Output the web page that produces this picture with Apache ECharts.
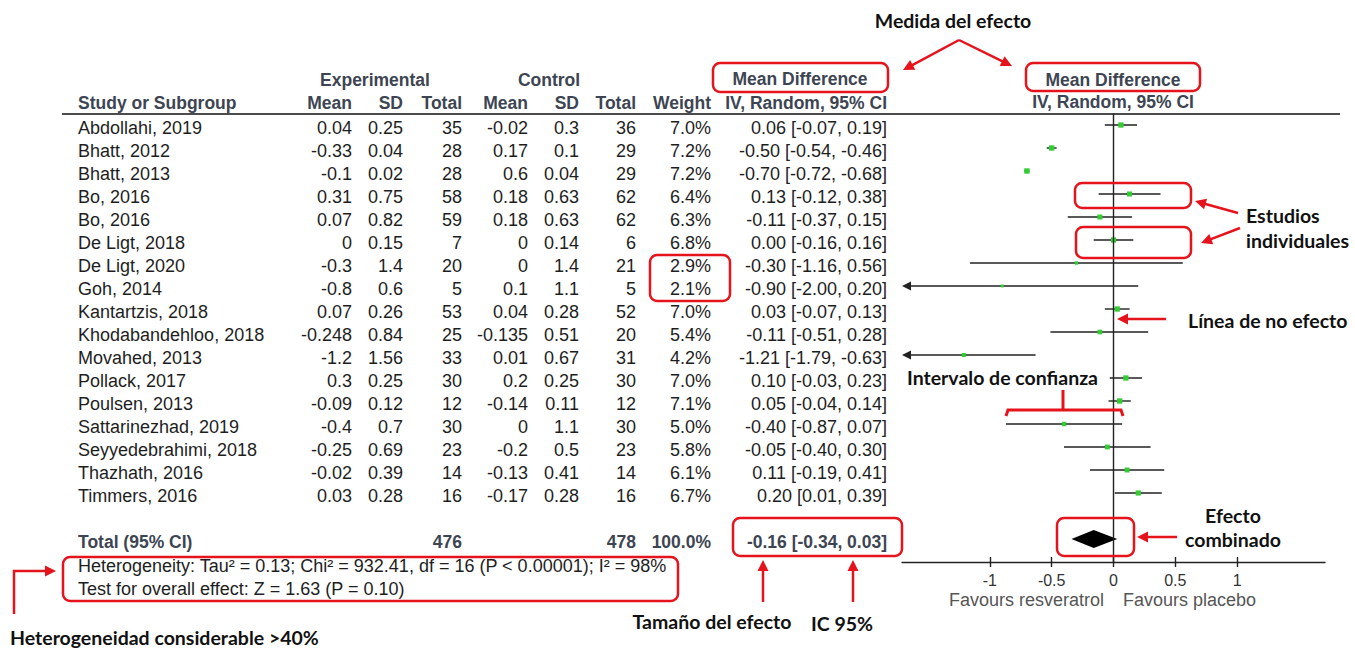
<!DOCTYPE html>
<html>
<head>
<meta charset="utf-8">
<title>Forest plot – resveratrol vs placebo</title>
<script src="https://cdn.jsdelivr.net/npm/echarts@6/dist/echarts.min.js"></script>
<style>
  html, body { margin: 0; padding: 0; background: #ffffff; }
  #chart { width: 1355px; height: 648px; }
</style>
</head>
<body>
<div id="chart"></div>
<script>
// ---- Study data -----------------------------------------------------------
const studies = [
  'Abdollahi, 2019', 'Bhatt, 2012', 'Bhatt, 2013', 'Bo, 2016', 'Bo, 2016',
  'De Ligt, 2018', 'De Ligt, 2020', 'Goh, 2014', 'Kantartzis, 2018',
  'Khodabandehloo, 2018', 'Movahed, 2013', 'Pollack, 2017', 'Poulsen, 2013',
  'Sattarinezhad, 2019', 'Seyyedebrahimi, 2018', 'Thazhath, 2016', 'Timmers, 2016'
];
const expMean  = [0.04, -0.33, -0.1, 0.31, 0.07, 0, -0.3, -0.8, 0.07, -0.248, -1.2, 0.3, -0.09, -0.4, -0.25, -0.02, 0.03];
const expSD    = [0.25, 0.04, 0.02, 0.75, 0.82, 0.15, 1.4, 0.6, 0.26, 0.84, 1.56, 0.25, 0.12, 0.7, 0.69, 0.39, 0.28];
const expTotal = [35, 28, 28, 58, 59, 7, 20, 5, 53, 25, 33, 30, 12, 30, 23, 14, 16];
const ctlMean  = [-0.02, 0.17, 0.6, 0.18, 0.18, 0, 0, 0.1, 0.04, -0.135, 0.01, 0.2, -0.14, 0, -0.2, -0.13, -0.17];
const ctlSD    = [0.3, 0.1, 0.04, 0.63, 0.63, 0.14, 1.4, 1.1, 0.28, 0.51, 0.67, 0.25, 0.11, 1.1, 0.5, 0.41, 0.28];
const ctlTotal = [36, 29, 29, 62, 62, 6, 21, 5, 52, 20, 31, 30, 12, 30, 23, 14, 16];
const weight   = [7.0, 7.2, 7.2, 6.4, 6.3, 6.8, 2.9, 2.1, 7.0, 5.4, 4.2, 7.0, 7.1, 5.0, 5.8, 6.1, 6.7];
const md       = [0.06, -0.50, -0.70, 0.13, -0.11, 0.00, -0.30, -0.90, 0.03, -0.11, -1.21, 0.10, 0.05, -0.40, -0.05, 0.11, 0.20];
const ciLow    = [-0.07, -0.54, -0.72, -0.12, -0.37, -0.16, -1.16, -2.00, -0.07, -0.51, -1.79, -0.03, -0.04, -0.87, -0.40, -0.19, 0.01];
const ciHigh   = [0.19, -0.46, -0.68, 0.38, 0.15, 0.16, 0.56, 0.20, 0.13, 0.28, -0.63, 0.23, 0.14, 0.07, 0.30, 0.41, 0.39];

// Pooled (random effects) result
const pooledLabel = 'Total (95% CI)';
const pooledExpTotal = 476;
const pooledCtlTotal = 478;
const pooledWeight = 100.0;
const pooledMd = -0.16, pooledLow = -0.34, pooledHigh = 0.03;
const heterogeneityText = 'Heterogeneity: Tau\u00b2 = 0.13; Chi\u00b2 = 932.41, df = 16 (P < 0.00001); I\u00b2 = 98%';
const overallText = 'Test for overall effect: Z = 1.63 (P = 0.10)';

// Axis ticks and side labels
const axisTicks = [-1, -0.5, 0, 0.5, 1];
const favoursLeft = 'Favours resveratrol';
const favoursRight = 'Favours placebo';

// Column headings
const groupHeads = ['Experimental', 'Control', 'Mean Difference'];
const colHeads = ['Study or Subgroup', 'Mean', 'SD', 'Total', 'Mean', 'SD', 'Total', 'Weight', 'IV, Random, 95% CI'];

// Annotation labels (Spanish)
const notes = {
  measure: 'Medida del efecto',
  studies: ['Estudios', 'individuales'],
  noEffect: 'L\u00ednea de no efecto',
  ci: 'Intervalo de confianza',
  pooled: ['Efecto', 'combinado'],
  size: 'Tama\u00f1o del efecto',
  ic: 'IC 95%',
  hetero: 'Heterogeneidad considerable >40%'
};

// ---- Layout ---------------------------------------------------------------
const X_MIN = -1.71, X_MAX = 1.71;
const TOTAL_ROW = 18;
const FONT = '"Liberation Sans", Arial, sans-serif';
const NOTE_FONT = 'bold 19.5px Lato, "Open Sans", sans-serif';
const HEAD_COLOR = '#3d4552';
const TEXT_COLOR = '#1e1e1e';
const RED = '#e5141c';
const GREEN = '#33cc33';
const COL = { study: 78, expMean: 352, expSD: 403, expTotal: 462, ctlMean: 528, ctlSD: 579, ctlTotal: 636, weight: 711, ci: 887 };
const REG = '18px ' + FONT;
const BOLD = 'bold 17.5px ' + FONT;

const fmt2 = v => v.toFixed(2);
const ciText = (m, l, h) => `${fmt2(m)} [${fmt2(l)}, ${fmt2(h)}]`;

function textEl(x, y, text, align, font, color, extra) {
  return Object.assign({
    type: 'text', x: x, y: y,
    style: {
      text: text, font: font, fill: color,
      align: align, textAlign: align, verticalAlign: 'middle', textVerticalAlign: 'middle'
    }
  }, extra || {});
}

// Forest plot: CI line, truncation arrow and weighted square for each study
function renderStudy(params, api) {
  const m = api.value(0), lo = api.value(1), hi = api.value(2), row = api.value(3), w = api.value(4);
  const loC = Math.max(lo, X_MIN), hiC = Math.min(hi, X_MAX);
  const p0 = api.coord([loC, row]);
  const p1 = api.coord([hiC, row]);
  const pc = api.coord([m, row]);
  const children = [{
    type: 'line',
    shape: { x1: p0[0] + (lo < X_MIN ? 6 : 0), y1: p0[1], x2: p1[0], y2: p1[1] },
    style: { stroke: '#222', lineWidth: 1.4 }
  }];
  if (lo < X_MIN) {
    children.push({
      type: 'polygon',
      shape: { points: [[p0[0], p0[1]], [p0[0] + 9, p0[1] - 4.5], [p0[0] + 9, p0[1] + 4.5]] },
      style: { fill: '#222' }
    });
  }
  const s = 2 * Math.sqrt(w);
  children.push({
    type: 'rect',
    shape: { x: pc[0] - s / 2, y: pc[1] - s / 2, width: s, height: s },
    style: { fill: GREEN }
  });
  return { type: 'group', children: children };
}

// Pooled estimate diamond
function renderDiamond(params, api) {
  const row = api.value(3);
  const pl = api.coord([api.value(1), row]);
  const ph = api.coord([api.value(2), row]);
  const pm = api.coord([api.value(0), row]);
  const hh = 9;
  return {
    type: 'polygon',
    shape: { points: [[pl[0], pl[1]], [pm[0], pm[1] - hh], [ph[0], ph[1]], [pm[0], pm[1] + hh]] },
    style: { fill: '#000' }
  };
}

// Table rows (study rows and the pooled total row)
function renderRow(params, api) {
  const row = api.value(1), idx = api.value(2);
  const y = api.coord([0, row])[1];
  const X = k => api.coord([COL[k], row])[0];
  if (idx < 0) {
    return { type: 'group', children: [
      textEl(X('study'), y, pooledLabel, 'left', BOLD, HEAD_COLOR),
      textEl(X('expTotal'), y, String(pooledExpTotal), 'right', BOLD, HEAD_COLOR),
      textEl(X('ctlTotal'), y, String(pooledCtlTotal), 'right', BOLD, HEAD_COLOR),
      textEl(X('weight'), y, pooledWeight.toFixed(1) + '%', 'right', BOLD, HEAD_COLOR),
      textEl(X('ci'), y, ciText(pooledMd, pooledLow, pooledHigh), 'right', BOLD, HEAD_COLOR)
    ]};
  }
  return { type: 'group', children: [
    textEl(X('study'), y, studies[idx], 'left', REG, TEXT_COLOR),
    textEl(X('expMean'), y, String(expMean[idx]), 'right', REG, TEXT_COLOR),
    textEl(X('expSD'), y, String(expSD[idx]), 'right', REG, TEXT_COLOR),
    textEl(X('expTotal'), y, String(expTotal[idx]), 'right', REG, TEXT_COLOR),
    textEl(X('ctlMean'), y, String(ctlMean[idx]), 'right', REG, TEXT_COLOR),
    textEl(X('ctlSD'), y, String(ctlSD[idx]), 'right', REG, TEXT_COLOR),
    textEl(X('ctlTotal'), y, String(ctlTotal[idx]), 'right', REG, TEXT_COLOR),
    textEl(X('weight'), y, weight[idx].toFixed(1) + '%', 'right', REG, TEXT_COLOR),
    textEl(X('ci'), y, ciText(md[idx], ciLow[idx], ciHigh[idx]), 'right', REG, TEXT_COLOR)
  ]};
}

// Red call-out helpers
function box(x, y, w, h) {
  return { type: 'rect', z: 100, shape: { x: x, y: y, width: w, height: h, r: 7 },
           style: { fill: 'none', stroke: RED, lineWidth: 2.5 } };
}
function arrow(x1, y1, x2, y2) {
  const len = 11, hw = 5.5;
  const dx = x2 - x1, dy = y2 - y1, d = Math.hypot(dx, dy);
  const ux = dx / d, uy = dy / d;
  const bx = x2 - ux * len, by = y2 - uy * len;
  const px = -uy, py = ux;
  return [
    { type: 'line', z: 100, shape: { x1: x1, y1: y1, x2: bx + ux, y2: by + uy }, style: { stroke: RED, lineWidth: 2.5 } },
    { type: 'polygon', z: 100, shape: { points: [[x2, y2], [bx + px * hw, by + py * hw], [bx - px * hw, by - py * hw]] }, style: { fill: RED } }
  ];
}

// ---- Chart ----------------------------------------------------------------
const studyData = studies.map((_, i) => [md[i], ciLow[i], ciHigh[i], i, weight[i]]);
const rowData = studies.map((_, i) => [0, i, i]).concat([[0, TOTAL_ROW, -1]]);

const headColX = [COL.study, COL.expMean, COL.expSD, COL.expTotal, COL.ctlMean, COL.ctlSD, COL.ctlTotal, COL.weight, COL.ci];

const graphics = [
  // header rule across table and plot
  { type: 'line', shape: { x1: 62, y1: 114, x2: 1340, y2: 114 }, style: { stroke: '#111', lineWidth: 1.6 } },
  textEl(375, 80, groupHeads[0], 'center', BOLD, HEAD_COLOR),
  textEl(549, 80, groupHeads[1], 'center', BOLD, HEAD_COLOR),
  textEl(800, 79, groupHeads[2], 'center', BOLD, HEAD_COLOR),
  textEl(1113, 80, groupHeads[2], 'center', BOLD, HEAD_COLOR),
  textEl(1113, 102, colHeads[8], 'center', BOLD, HEAD_COLOR),
  textEl(78, 566, heterogeneityText, 'left', REG, TEXT_COLOR),
  textEl(78, 589, overallText, 'left', REG, TEXT_COLOR),
  textEl(1104, 600, favoursLeft, 'right', REG, '#555'),
  textEl(1123, 600, favoursRight, 'left', REG, '#555')
];
colHeads.forEach((h, k) => {
  graphics.push(textEl(headColX[k], 103, h, k === 0 ? 'left' : 'right', BOLD, HEAD_COLOR));
});

// call-outs
const callouts = [
  textEl(953, 20, notes.measure, 'center', NOTE_FONT, '#111'),
  ...arrow(959, 40, 903, 70),
  ...arrow(959, 40, 1012, 66),
  box(713, 63, 175, 29),
  box(1026, 63, 174, 28),
  box(1075, 183, 116, 25),
  box(1076, 227, 115, 31),
  ...arrow(1238, 213, 1195, 201),
  ...arrow(1240, 228, 1201, 243),
  textEl(1246, 215, notes.studies[0], 'left', NOTE_FONT, '#111'),
  textEl(1246, 240, notes.studies[1], 'left', NOTE_FONT, '#111'),
  box(650, 255, 80, 46),
  ...arrow(1166, 319, 1117, 319),
  textEl(1188, 320, notes.noEffect, 'left', NOTE_FONT, '#111'),
  textEl(907, 377, notes.ci, 'left', NOTE_FONT, '#111'),
  { type: 'polyline', z: 100, shape: { points: [[1006, 416], [1008, 410], [1121, 410], [1123, 416]] },
    style: { stroke: RED, lineWidth: 3, fill: 'none' } },
  { type: 'line', z: 100, shape: { x1: 1063, y1: 390, x2: 1063, y2: 410 }, style: { stroke: RED, lineWidth: 3 } },
  box(733, 518, 169, 38),
  box(1057, 518, 77, 38),
  ...arrow(1177, 537, 1137, 537),
  textEl(1233, 515, notes.pooled[0], 'center', NOTE_FONT, '#111'),
  textEl(1233, 539, notes.pooled[1], 'center', NOTE_FONT, '#111'),
  box(63, 557, 615, 44),
  ...arrow(763, 602, 763, 560),
  ...arrow(853, 602, 853, 560),
  textEl(712, 621, notes.size, 'center', NOTE_FONT, '#111'),
  textEl(842, 623, notes.ic, 'center', NOTE_FONT, '#111'),
  { type: 'polyline', z: 100, shape: { points: [[14, 614], [14, 571], [46, 571]] },
    style: { stroke: RED, lineWidth: 2.5, fill: 'none' } },
  { type: 'polygon', z: 100, shape: { points: [[56, 571], [45, 565.5], [45, 576.5]] }, style: { fill: RED } },
  textEl(10, 637, notes.hetero, 'left', NOTE_FONT, '#111')
];

const option = {
  animation: false,
  backgroundColor: '#ffffff',
  grid: [
    { left: 902, width: 423, top: 113.5, height: 448.5 },
    { left: 0, width: 1355, top: 116.5, height: 448.5 }
  ],
  xAxis: [
    {
      gridIndex: 0, type: 'value', min: X_MIN, max: X_MAX, position: 'bottom',
      axisLine: { show: true, onZero: false, lineStyle: { color: '#222', width: 1.4 } },
      axisTick: { show: true, length: 5, inside: false, customValues: axisTicks, lineStyle: { color: '#222', width: 1.4 } },
      axisLabel: { show: true, customValues: axisTicks, margin: 10, color: '#333', fontSize: 16, fontFamily: FONT,
                   formatter: v => String(v) },
      splitLine: { show: false }
    },
    {
      gridIndex: 0, type: 'value', min: X_MIN, max: X_MAX, position: 'bottom',
      axisLine: { show: false, onZero: false },
      axisTick: { show: true, length: 5, inside: true, customValues: axisTicks, lineStyle: { color: '#222', width: 1.4 } },
      axisLabel: { show: false },
      splitLine: { show: false }
    },
    { gridIndex: 1, type: 'value', min: 0, max: 1355, show: false }
  ],
  yAxis: [
    { gridIndex: 0, type: 'value', inverse: true, min: -0.5, max: 19, show: false },
    { gridIndex: 1, type: 'value', inverse: true, min: -0.5, max: 19, show: false }
  ],
  series: [
    {
      name: 'studies', type: 'custom', xAxisIndex: 0, yAxisIndex: 0,
      encode: { x: [0, 1, 2], y: 3 }, data: studyData, renderItem: renderStudy, clip: false, z: 3,
      markLine: {
        silent: true, symbol: 'none', label: { show: false },
        lineStyle: { color: '#222', width: 1.4, type: 'solid' },
        data: [{ xAxis: 0 }]
      }
    },
    {
      name: 'pooled', type: 'custom', xAxisIndex: 0, yAxisIndex: 0,
      encode: { x: [0, 1, 2], y: 3 }, data: [[pooledMd, pooledLow, pooledHigh, TOTAL_ROW]],
      renderItem: renderDiamond, z: 4
    },
    {
      name: 'table', type: 'custom', xAxisIndex: 2, yAxisIndex: 1,
      encode: { x: 0, y: 1 }, data: rowData, renderItem: renderRow, clip: false, silent: true
    }
  ],
  graphic: graphics.concat(callouts)
};

const chart = echarts.init(document.getElementById('chart'), null, { renderer: 'svg' });
chart.setOption(option);
</script>
</body>
</html>
